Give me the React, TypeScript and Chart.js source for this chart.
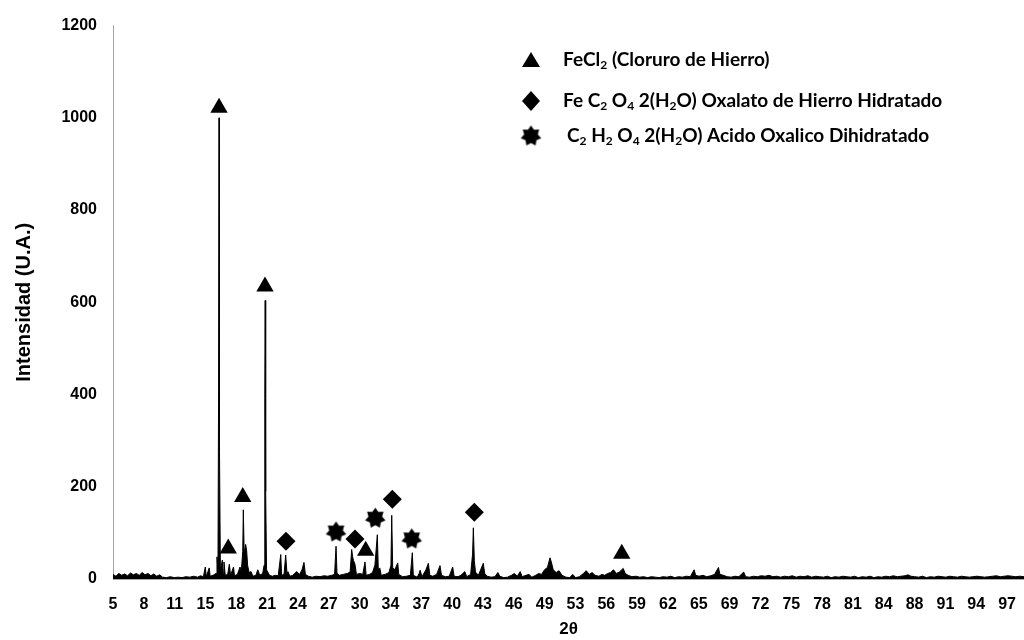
import React, { useEffect, useRef } from 'react';
import { Chart, registerables } from 'chart.js';

Chart.register(...registerables);

// ---------- DATA ----------
const xTickLabels = ['5', '8', '11', '15', '18', '21', '24', '27', '30', '34', '37', '40', '43', '46', '49', '53', '56', '59', '62', '65', '69', '72', '75', '78', '81', '84', '88', '91', '94', '97'];
const xFirstTick = 5;
const xLastTick = 97;
const xMax = 98.74;
const yTickValues = [0, 200, 400, 600, 800, 1000, 1200];

// XRD pattern [2θ, intensity]
const xrdPattern: [number, number][] = [
  [5.0, 10], [5.3, 6], [5.6, 12], [5.9, 8], [6.2, 11], [6.5, 7], [6.8, 13], [7.1, 9], [7.4, 12], [7.7, 8],
  [8.0, 14], [8.3, 9], [8.6, 12], [8.9, 7], [9.2, 11], [9.5, 6], [9.8, 9], [10.1, 4], [10.5, 3], [10.9, 5],
  [11.3, 3], [11.7, 4], [12.1, 3], [12.5, 5], [12.9, 4], [13.3, 6], [13.7, 4], [14.0, 7], [14.3, 5], [14.5, 26],
  [14.6, 5], [14.9, 24], [15.0, 6], [15.3, 8], [15.6, 12], [15.7, 48], [15.8, 15], [15.86, 380], [15.91, 1000], [15.96, 275],
  [16.05, 20], [16.25, 41], [16.35, 12], [16.42, 37], [16.55, 8], [16.8, 10], [16.97, 32], [17.1, 8], [17.4, 26], [17.5, 7],
  [17.8, 10], [18.07, 26], [18.2, 15], [18.35, 60], [18.41, 150], [18.5, 55], [18.65, 75], [18.75, 62], [18.85, 30], [19.0, 14],
  [19.2, 16], [19.4, 6], [19.7, 8], [19.9, 20], [20.1, 8], [20.4, 12], [20.55, 30], [20.62, 391], [20.66, 604], [20.71, 190],
  [20.8, 20], [21.1, 8], [21.4, 6], [21.7, 8], [22.0, 7], [22.26, 53], [22.35, 8], [22.6, 10], [22.77, 52], [22.9, 12],
  [23.0, 16], [23.2, 6], [23.5, 8], [23.9, 16], [24.2, 10], [24.45, 20], [24.65, 36], [24.8, 10], [25.1, 6], [25.5, 4],
  [25.9, 6], [26.3, 5], [26.7, 7], [27.1, 6], [27.5, 8], [27.8, 10], [27.95, 71], [28.05, 12], [28.3, 8], [28.7, 10],
  [29.1, 12], [29.4, 15], [29.56, 64], [29.66, 48], [29.75, 40], [29.9, 32], [30.05, 10], [30.4, 12], [30.7, 10], [30.93, 37],
  [31.05, 8], [31.4, 10], [31.7, 14], [31.95, 30], [32.2, 96], [32.3, 20], [32.45, 24], [32.6, 8], [33.0, 10], [33.4, 14],
  [33.6, 30], [33.68, 138], [33.78, 25], [34.0, 20], [34.3, 35], [34.4, 10], [34.8, 5], [35.2, 6], [35.6, 8], [35.8, 57],
  [35.9, 8], [36.3, 4], [36.5, 12], [36.6, 19], [36.8, 5], [37.2, 20], [37.45, 34], [37.6, 8], [37.9, 6], [38.3, 10],
  [38.65, 29], [38.8, 8], [39.2, 5], [39.6, 6], [39.95, 26], [40.1, 6], [40.5, 5], [40.8, 8], [41.2, 16], [41.4, 5],
  [41.8, 10], [42.0, 54], [42.08, 111], [42.18, 40], [42.3, 15], [42.6, 8], [43.1, 34], [43.25, 12], [43.5, 6], [43.9, 4],
  [44.3, 5], [44.6, 14], [44.8, 6], [45.2, 3], [45.6, 4], [46.0, 8], [46.3, 12], [46.6, 6], [46.9, 16], [47.1, 5],
  [47.5, 8], [47.8, 10], [48.1, 4], [48.5, 8], [48.8, 12], [49.1, 10], [49.4, 20], [49.7, 25], [49.97, 46], [50.1, 37],
  [50.3, 20], [50.6, 14], [50.9, 18], [51.2, 8], [51.6, 4], [52.0, 3], [52.3, 10], [52.6, 3], [53.0, 5], [53.4, 12],
  [53.7, 18], [54.0, 10], [54.3, 14], [54.6, 8], [55.0, 6], [55.3, 10], [55.6, 8], [55.9, 12], [56.2, 14], [56.5, 20],
  [56.8, 12], [57.1, 15], [57.5, 23], [57.7, 12], [58.0, 8], [58.4, 5], [58.8, 6], [59.2, 4], [59.6, 5], [60.0, 3],
  [60.4, 5], [60.8, 4], [61.2, 3], [61.6, 5], [62.0, 4], [62.4, 6], [62.8, 3], [63.2, 5], [63.6, 4], [64.0, 6],
  [64.4, 5], [64.8, 20], [64.95, 8], [65.3, 6], [65.7, 8], [66.1, 5], [66.5, 7], [66.9, 10], [67.3, 25], [67.45, 10],
  [67.8, 8], [68.2, 5], [68.6, 4], [69.0, 6], [69.4, 5], [69.9, 15], [70.1, 5], [70.5, 4], [70.9, 6], [71.3, 5],
  [71.7, 7], [72.1, 6], [72.5, 8], [72.9, 5], [73.3, 6], [73.7, 4], [74.1, 6], [74.5, 5], [74.9, 7], [75.3, 4],
  [75.7, 6], [76.1, 5], [76.5, 7], [76.9, 4], [77.3, 6], [77.7, 5], [78.1, 4], [78.5, 6], [78.9, 3], [79.3, 5],
  [79.7, 4], [80.1, 6], [80.5, 5], [80.9, 4], [81.3, 6], [81.7, 3], [82.1, 5], [82.5, 4], [82.9, 6], [83.3, 3],
  [83.7, 5], [84.1, 4], [84.5, 6], [84.9, 5], [85.3, 7], [85.7, 5], [86.1, 6], [86.5, 7], [86.8, 9], [87.1, 6],
  [87.5, 5], [87.9, 4], [88.3, 6], [88.7, 3], [89.1, 5], [89.5, 4], [89.9, 6], [90.3, 5], [90.7, 4], [91.1, 6],
  [91.5, 5], [91.9, 4], [92.3, 6], [92.7, 5], [93.1, 4], [93.5, 5], [93.9, 6], [94.3, 5], [94.7, 4], [95.1, 5],
  [95.5, 6], [95.9, 7], [96.3, 5], [96.7, 6], [97.1, 7], [97.5, 6], [97.9, 5], [98.3, 6], [98.74, 5],
];

// Marker positions [2θ, intensity]
const feCl2Markers: [number, number][] = [[15.91, 1022], [16.86, 66], [18.35, 178], [20.64, 634], [31.0, 61], [57.35, 55]];
const oxalatoMarkers: [number, number][] = [[22.8, 82], [29.9, 87], [33.74, 173], [42.18, 145]];
const acidoMarkers: [number, number][] = [[27.95, 102], [31.99, 132], [35.74, 87]];

const legendLabels = [
  'FeCl_2 (Cloruro de Hierro)',
  'Fe C_2 O_4 2(H_2O) Oxalato de Hierro Hidratado',
  'C_2 H_2 O_4 2(H_2O) Acido Oxalico Dihidratado',
];
const legendMarkers = ['triangle', 'diamond', 'star'];

const xTitle = '2θ';
const yTitle = 'Intensidad (U.A.)';

// ---------- HELPERS ----------
function makeStar(outer: number, inner: number, points: number): HTMLCanvasElement {
  const c = document.createElement('canvas');
  const s = Math.ceil(outer * 2 + 2);
  c.width = s;
  c.height = s;
  const ctx = c.getContext('2d')!;
  ctx.beginPath();
  for (let i = 0; i < points * 2; i++) {
    const r = i % 2 === 0 ? outer : inner;
    const a = -Math.PI / 2 + (i * Math.PI) / points;
    ctx.lineTo(s / 2 + r * Math.cos(a), s / 2 + r * Math.sin(a));
  }
  ctx.closePath();
  ctx.fillStyle = '#000';
  ctx.fill();
  return c;
}

function toXY(arr: [number, number][]) {
  return arr.map(([x, y]) => ({ x, y }));
}

export default function App() {
  const canvasRef = useRef<HTMLCanvasElement | null>(null);

  useEffect(() => {
    if (!canvasRef.current) return;
    const star = makeStar(10.5, 7, 7);

    const legendPlugin = {
      id: 'customLegend',
      afterDraw(chart: any) {
        const ctx = chart.ctx as CanvasRenderingContext2D;
        const rowsY = [60, 101, 136];
        const textX = [563, 563, 567];
        const markerX = 531;
        ctx.save();
        ctx.fillStyle = '#000';
        legendLabels.forEach((label, i) => {
          const y = rowsY[i];
          const m = legendMarkers[i];
          ctx.beginPath();
          if (m === 'triangle') {
            ctx.moveTo(markerX, y - 8);
            ctx.lineTo(markerX + 9, y + 7);
            ctx.lineTo(markerX - 9, y + 7);
            ctx.closePath();
            ctx.fill();
          } else if (m === 'diamond') {
            ctx.moveTo(markerX, y - 10);
            ctx.lineTo(markerX + 9, y);
            ctx.lineTo(markerX, y + 10);
            ctx.lineTo(markerX - 9, y);
            ctx.closePath();
            ctx.fill();
          } else {
            ctx.drawImage(star, markerX - star.width / 2, y - star.height / 2);
          }
          // text with subscripts
          const parts = label.split(/_(\d)/);
          let x = textX[i];
          ctx.textBaseline = 'middle';
          ctx.textAlign = 'left';
          parts.forEach((p, j) => {
            if (j % 2 === 1) {
              ctx.font = 'bold 12px Lato';
              ctx.fillText(p, x, y + 5);
              x += ctx.measureText(p).width;
            } else if (p) {
              ctx.font = 'bold 19px Lato';
              ctx.fillText(p, x, y);
              x += ctx.measureText(p).width;
            }
          });
        });
        ctx.restore();
      },
    };

    const tickStep = (xLastTick - xFirstTick) / (xTickLabels.length - 1);

    const chart = new Chart(canvasRef.current, {
      type: 'line',
      data: {
        datasets: [
          {
            type: 'scatter' as any,
            label: 'FeCl2',
            data: toXY(feCl2Markers),
            pointStyle: 'triangle',
            pointRadius: 10,
            backgroundColor: '#000',
            borderColor: '#000',
            borderWidth: 0,
            order: 0,
          },
          {
            type: 'scatter' as any,
            label: 'Oxalato',
            data: toXY(oxalatoMarkers),
            pointStyle: 'rectRot',
            pointRadius: 9.5,
            backgroundColor: '#000',
            borderColor: '#000',
            borderWidth: 0,
            order: 0,
          },
          {
            type: 'scatter' as any,
            label: 'Acido',
            data: toXY(acidoMarkers),
            pointStyle: star as any,
            pointRadius: 10,
            backgroundColor: '#000',
            borderColor: '#000',
            order: 0,
          },
          {
            label: 'XRD',
            data: toXY(xrdPattern),
            borderColor: '#000',
            backgroundColor: '#000',
            borderWidth: 1,
            pointRadius: 0,
            tension: 0,
            fill: 'origin',
            order: 1,
          },
        ],
      },
      options: {
        responsive: true,
        maintainAspectRatio: false,
        animation: false,
        layout: { autoPadding: false, padding: { top: 21, right: 0, bottom: 0, left: 0 } },
        plugins: {
          legend: { display: false },
          tooltip: { enabled: false },
          title: { display: false },
        },
        scales: {
          x: {
            type: 'linear',
            min: xFirstTick,
            max: xMax,
            grid: { display: false, drawTicks: false },
            border: { display: true, color: '#a6a6a6', width: 1 },
            afterBuildTicks: (axis: any) => {
              axis.ticks = xTickLabels.map((_, i) => ({ value: xFirstTick + i * tickStep }));
            },
            afterFit: (axis: any) => {
              axis.height = 61;
              axis.paddingLeft = 0;
              axis.paddingRight = 0;
            },
            ticks: {
              autoSkip: false,
              maxRotation: 0,
              padding: 16,
              color: '#000',
              font: { family: 'Liberation Sans', size: 16, weight: 'bold' },
              callback: (_v: any, i: number) => xTickLabels[i],
            },
            title: {
              display: true,
              text: xTitle,
              color: '#000',
              font: { family: 'Liberation Sans', size: 17, weight: 'bold' },
              padding: { top: 0, bottom: 0 },
            },
          },
          y: {
            type: 'linear',
            min: 0,
            max: 1200,
            grid: { display: false, drawTicks: false },
            border: { display: true, color: '#a6a6a6', width: 1 },
            afterBuildTicks: (axis: any) => {
              axis.ticks = yTickValues.map((v) => ({ value: v }));
            },
            afterFit: (axis: any) => {
              axis.width = 113;
            },
            ticks: {
              padding: 16,
              color: '#000',
              font: { family: 'Liberation Sans', size: 16, weight: 'bold' },
              callback: (v: any) => String(v),
            },
            title: {
              display: true,
              text: yTitle,
              color: '#000',
              font: { family: 'Liberation Sans', size: 20, weight: 'bold' },
              padding: { top: 12, bottom: 0 },
            },
          },
        },
      },
      plugins: [legendPlugin],
    });

    return () => chart.destroy();
  }, []);

  return (
    <div style={{ position: 'fixed', left: 0, top: 0, width: 1024, height: 640, background: '#fff' }}>
      <canvas ref={canvasRef} />
    </div>
  );
}
